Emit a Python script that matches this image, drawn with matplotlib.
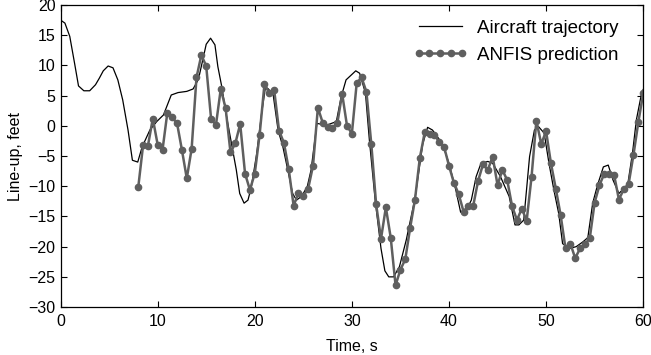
import numpy as np
import matplotlib.pyplot as plt

plt.rcParams['font.family'] = ['Liberation Sans Narrow', 'Liberation Sans', 'DejaVu Sans']

# Aircraft trajectory
traj_t = [0, 0.45, 0.95, 1.45, 1.85, 2.4, 3.0, 3.6, 4.0, 4.4, 4.9, 5.4, 5.9, 6.4, 6.95,
          7.4, 7.95, 8.4, 9.2, 9.9, 10.6, 11.4, 12.1, 13.0, 13.65, 14.2, 14.7, 15.0,
          15.45, 15.9, 16.2, 16.6, 17.1, 17.6, 18.1, 18.45, 18.9, 19.3, 19.65, 20.2,
          20.7, 21.1, 21.4, 21.9, 22.4, 22.9, 23.4, 23.9, 24.3, 24.8, 25.4, 25.8, 26.4,
          27.4, 28.4, 28.9, 29.4, 30.4, 30.8, 31.4, 31.8, 32.4, 33.0, 33.4, 33.8, 34.3,
          34.9, 35.6, 36.5, 37.3, 37.8, 38.3, 39.3, 40.0, 40.7, 41.2, 41.7, 42.3, 42.8,
          43.3, 44.0, 44.5, 45.3, 46.2, 46.8, 47.2, 47.7, 48.3, 48.8, 49.2, 49.8, 50.3,
          50.8, 51.3, 51.7, 52.4, 53.1, 53.8, 54.3, 54.8, 55.3, 55.9, 56.4, 56.9, 57.5,
          58.0, 58.4, 58.9, 59.3, 59.8, 60.0]
traj_y = [17.5, 17.0, 14.8, 10.3, 6.6, 5.8, 5.8, 6.8, 7.9, 9.1, 9.9, 9.6, 7.6, 4.3, -0.7,
          -5.7, -6.0, -3.5, -0.7, 0.7, 1.8, 5.1, 5.5, 5.7, 6.1, 7.7, 11.3, 13.5,
          14.5, 13.4, 9.8, 6.5, 1.5, -2.9, -7.3, -11.2, -12.8, -12.3, -10.1, -4.6,
          2.0, 6.4, 6.1, 5.1, -0.7, -3.5, -7.3, -11.2, -12.3, -11.7, -10.1, -7.3, 0.4,
          0.1, 0.7, 4.8, 7.6, 9.1, 8.7, 5.4, -2.3, -12.3, -20.3, -24.0, -25.0, -25.0,
          -23.3, -18.9, -12.0, -3.0, -0.25, -0.7, -2.9, -6.2, -10.6, -14.3, -14.3, -12.3, -8.4,
          -6.2, -5.9, -6.2, -8.4, -11.7, -16.4, -16.4, -15.6, -5.1, -0.7, -0.1, -1.2, -6.2,
          -10.6, -14.5, -19.5, -20.3, -20.0, -19.2, -18.5, -12.8, -9.8, -6.8, -6.5, -9.0, -11.2,
          -10.4, -9.8, -4.5, 1.0, 5.1, 6.0]

# ANFIS prediction, one point every 0.5 s from 8 s to 60 s
anfis_t = np.arange(8, 60.01, 0.5)
anfis_y = [-10.2, -3.2, -3.3, 1.2, -3.1, -4.0, 2.2, 1.4, 0.4, -4.0,
           -8.7, -3.8, 8.0, 11.7, 9.9, 1.2, 0.1, 6.1, 2.9, -4.4,
           -2.9, 0.3, -7.9, -10.6, -7.9, -1.5, 6.9, 5.4, 5.9, -0.8,
           -2.8, -7.2, -13.2, -11.2, -11.6, -10.4, -6.6, 3.0, 0.5, -0.2,
           -0.3, 0.4, 5.3, 0.0, -1.3, 7.1, 8.0, 5.6, -3.0, -13.0,
           -18.7, -13.5, -18.5, -26.4, -23.8, -22.1, -16.9, -12.2, -5.3, -1.1,
           -1.4, -1.6, -2.6, -3.5, -6.6, -9.4, -11.3, -14.2, -13.2, -13.2,
           -9.1, -6.4, -7.3, -5.1, -9.8, -7.3, -9.0, -13.3, -15.6, -13.7,
           -15.7, -8.5, 0.85, -3.0, -0.9, -6.2, -10.4, -14.8, -20.3, -19.5,
           -21.9, -20.3, -19.6, -18.6, -12.7, -9.8, -7.9, -7.9, -8.1, -12.2,
           -10.5, -9.6, -4.8, 0.6, 5.4]

fig = plt.figure(figsize=(6.51, 3.55), dpi=100)
ax = fig.add_axes([0.093, 0.135, 0.895, 0.851])

ax.plot(traj_t, traj_y, color='black', lw=0.9, label='Aircraft trajectory')
ax.plot(anfis_t, anfis_y, color='#5f5f5f', lw=1.8, marker='o', markersize=4.5,
        label='ANFIS prediction')

ax.set_xlim(0, 60)
ax.set_ylim(-30, 20)
ax.set_xticks(range(0, 61, 10))
ax.set_yticks(range(-30, 21, 5))
ax.tick_params(direction='in', top=True, right=True, length=4, labelsize=11.5)
ax.tick_params(axis='x', pad=5)
for s in ax.spines.values():
    s.set_linewidth(0.9)

ax.set_xlabel('Time, s', fontsize=11.5, labelpad=7)
ax.set_ylabel('Line-up, feet', fontsize=11.5, labelpad=4)

ax.legend(loc='upper right', frameon=False, fontsize=13.5, numpoints=5,
          handlelength=2.9, handletextpad=0.5, borderpad=0, borderaxespad=0,
          labelspacing=0.55, bbox_to_anchor=(0.957, 0.952))

fig.savefig('out.png', dpi=100)
